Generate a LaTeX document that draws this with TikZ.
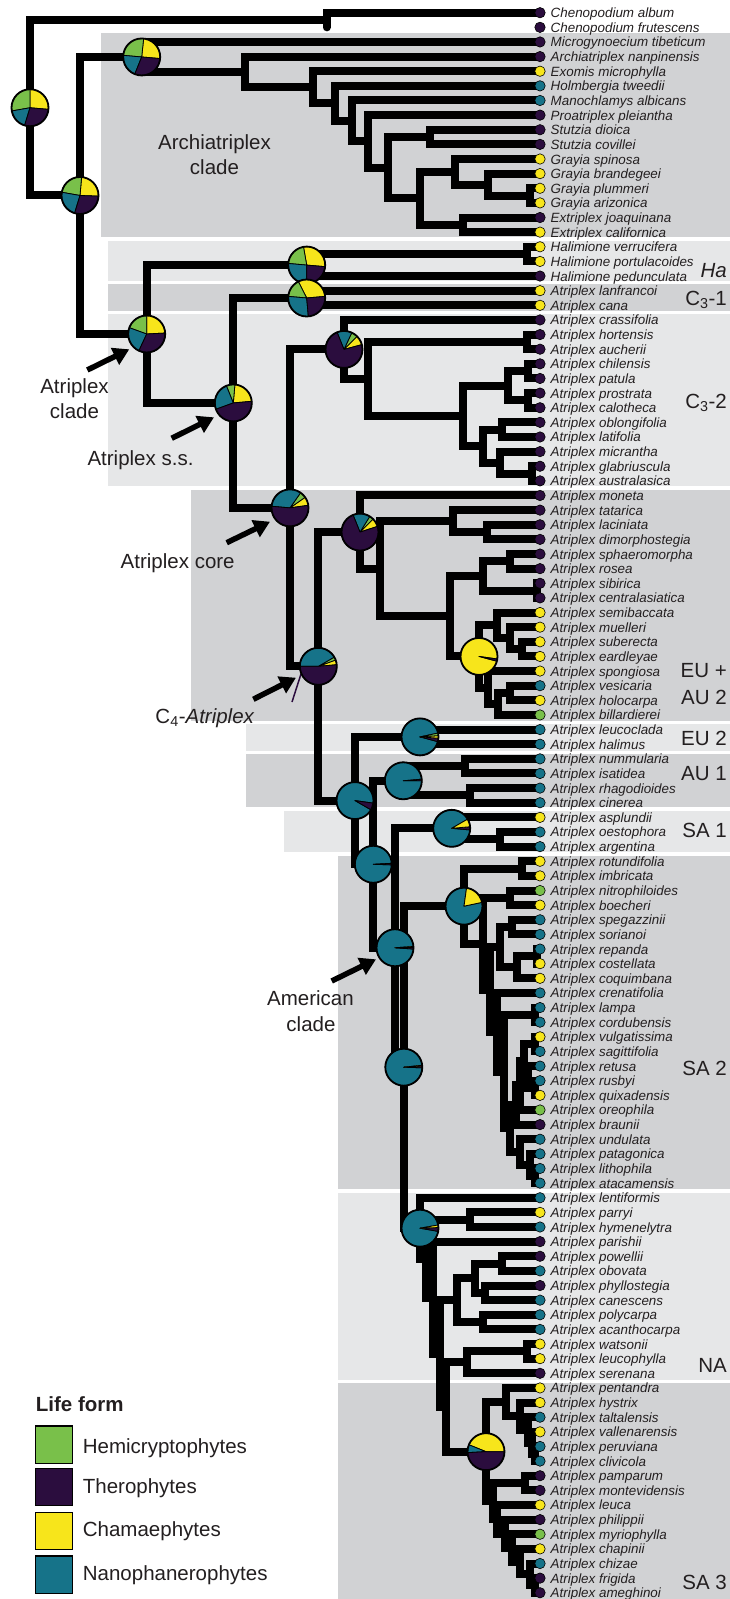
\documentclass[tikz,border=0pt]{standalone}
\usepackage{fontspec}
\setmainfont{Liberation Sans}
\usetikzlibrary{calc,arrows.meta}
\definecolor{cP}{HTML}{2B0D3E}
\definecolor{cT}{HTML}{167389}
\definecolor{cY}{HTML}{F7E51B}
\definecolor{cG}{HTML}{79C04A}
\definecolor{bandD}{HTML}{D1D2D4}
\definecolor{bandL}{HTML}{E6E7E8}
\definecolor{txt}{HTML}{231F20}
\newcommand\clade[4]{%
  \path let \p1=(#3), \p2=(#4), \p3=(#2,0) in coordinate (#1) at (\x3, {0.5*(\y1+\y2)});%
  \draw[br] (#3) -| (#1) |- (#4);}
\newcommand\mypie[2]{%
  \foreach \c/\a/\b in {#2}{%
    \filldraw[fill=\c, draw=black, line width=0.8pt, line join=round] (#1) -- ++(\a:18.5pt) arc[start angle=\a, end angle=\b, radius=18.5pt] -- cycle;}%
  \draw[line width=1.8pt] (#1) circle[radius=18.5pt];}
\begin{document}
\begin{tikzpicture}[x=1pt,y=-1pt,
  br/.style={line width=8pt, line join=miter, line cap=butt},
  tiplab/.style={anchor=base west, inner sep=0pt, font=\fontsize{13.4}{15}\selectfont\itshape, text=txt},
  ann/.style={inner sep=0pt, font=\fontsize{20.5}{24}\selectfont, text=txt},
  arr/.style={line width=5.5pt, -{Triangle[length=16pt,width=18pt]}},
  legbox/.style={draw=black, line width=1.3pt}]
\useasboundingbox (0,0) rectangle (730,1599);
\fill[white] (0,0) rectangle (730,1599);
% bands
\fill[bandD] (100.5,33) rectangle (730,236.5);
\fill[bandL] (107.5,241) rectangle (730,280.5);
\fill[bandD] (107.5,284) rectangle (730,310.5);
\fill[bandL] (107.5,313.5) rectangle (730,486);
\fill[bandD] (190.5,489.5) rectangle (730,721);
\fill[bandL] (246,724) rectangle (730,750.5);
\fill[bandD] (246,754) rectangle (730,807);
\fill[bandL] (284,811) rectangle (730,851.5);
\fill[bandD] (337.5,856) rectangle (730,1189);
\fill[bandL] (337.5,1193) rectangle (730,1380);
\fill[bandD] (337.5,1383) rectangle (730,1599);
% tips
\foreach \i in {1,...,109}{\coordinate (t\i) at (540,{12.7+(\i-1)*14.63});}
% Chenopodium
\path let \p1=(t1), \p2=(t2), \p3=(326.7,0) in coordinate (cheno) at (\x3,{0.5*(\y1+\y2)});
\draw[br, line cap=round] (t1) -| (cheno) -- (cheno |- t2);
% Archiatriplex clade
\clade{gthree}{530}{t13}{t14}
\clade{gtwo}{488.3}{t12}{gthree}
\clade{gray}{455}{t11}{gtwo}
\clade{extr}{463.3}{t15}{t16}
\clade{ge}{420}{gray}{extr}
\clade{stu}{430}{t9}{t10}
\clade{nrest}{388.3}{stu}{ge}
\clade{npr}{368.3}{t8}{nrest}
\clade{nma}{351.7}{t7}{npr}
\clade{nho}{335}{t6}{nma}
\clade{nex}{312.7}{t5}{nho}
\clade{nna}{245}{t4}{nex}
\clade{archi}{141.7}{t3}{nna}
% Halimione, C3-1
\clade{hvp}{527.3}{t17}{t18}
\clade{hali}{306.7}{hvp}{t19}
\clade{cthree}{306.7}{t20}{t21}
% C3-2
\clade{ha}{526.7}{t23}{t24}
\clade{cp}{528}{t25}{t26}
\clade{pcal}{528}{t27}{t28}
\clade{cppc}{508}{cp}{pcal}
\clade{ol}{501.7}{t29}{t30}
\clade{gaa}{531.7}{t32}{t33}
\clade{mga}{500}{t31}{gaa}
\clade{olmga}{483.3}{ol}{mga}
\clade{cc}{463}{cppc}{olmga}
\clade{cb}{368.3}{ha}{cc}
\clade{ctwo}{344}{t22}{cb}
% EU + AU 2
\clade{ld}{486.7}{t36}{t37}
\clade{nB}{453.3}{t35}{ld}
\clade{sr}{510}{t38}{t39}
\clade{sc}{536.7}{t40}{t41}
\clade{nD}{483.3}{sr}{sc}
\clade{se}{522}{t44}{t45}
\clade{mu}{510}{t43}{se}
\clade{nF}{497}{t42}{mu}
\clade{vh}{510}{t47}{t48}
\clade{vhb}{498}{vh}{t49}
\clade{nG}{488}{t46}{vhb}
\clade{nE}{479}{nF}{nG}
\clade{nC}{450}{nD}{nE}
\clade{nA}{380}{nB}{nC}
\clade{euau}{360}{t34}{nA}
% EU 2, AU 1, SA 1
\clade{eutwo}{420}{t50}{t51}
\clade{aua}{465}{t52}{t53}
\clade{aub}{470}{t54}{t55}
\clade{auone}{403.3}{aua}{aub}
\clade{oa}{500}{t57}{t58}
\clade{saone}{451.7}{t56}{oa}
% SA 2
\clade{ri}{521.7}{t59}{t60}
\clade{nbo}{510}{t61}{t62}
\clade{sps}{511.7}{t63}{t64}
\clade{rc}{536.7}{t65}{t66}
\clade{rcc}{516.7}{rc}{t67}
\clade{ya}{500}{sps}{rcc}
\clade{lc}{535}{t69}{t70}
\clade{vs}{535}{t71}{t72}
\clade{rq}{535}{t74}{t75}
\clade{rrq}{528}{t73}{rq}
\clade{yeone}{524}{vs}{rrq}
\clade{yetwo}{520}{yeone}{t76}
\clade{yethree}{516}{yetwo}{t77}
\clade{la}{535}{t80}{t81}
\clade{pla}{530}{t79}{la}
\clade{upla}{520}{t78}{pla}
\clade{yf}{510}{yethree}{upla}
\clade{yg}{504}{lc}{yf}
\clade{yh}{497}{t68}{yg}
\clade{sy}{490}{ya}{yh}
\clade{sx}{483}{nbo}{sy}
\clade{nL}{464}{ri}{sx}
% NA + SA 3
\clade{ph}{470}{t83}{t84}
\clade{po}{501.7}{t86}{t87}
\clade{pcn}{485}{t88}{t89}
\clade{popc}{475}{po}{pcn}
\clade{pa}{483.3}{t90}{t91}
\clade{nacore}{456.7}{popc}{pa}
\clade{wl}{526.7}{t92}{t93}
\clade{wls}{466.7}{wl}{t94}
\clade{pcl}{535}{t99}{t100}
\clade{vpc}{532}{t98}{pcl}
\clade{tvpc}{528}{t97}{vpc}
\clade{ht}{520}{t96}{tvpc}
\clade{pht}{506}{t95}{ht}
\clade{pm}{525}{t101}{t102}
\clade{fa}{535}{t108}{t109}
\clade{cfa}{530}{t107}{fa}
\clade{chc}{520}{t106}{cfa}
\clade{myc}{511.7}{t105}{chc}
\clade{phm}{505}{t104}{myc}
\clade{leph}{496.7}{t103}{phm}
\clade{sabb}{493}{pm}{leph}
\clade{sathree}{486}{pht}{sabb}
\clade{mfive}{446}{wls}{sathree}
\clade{mfour}{440}{nacore}{mfive}
\clade{mthree}{433}{t85}{mfour}
\clade{mtwo}{426}{ph}{mthree}
\clade{nM}{420}{t82}{mtwo}
% backbone
\clade{nK}{403.8}{nL}{nM}
\clade{nJ}{395}{saone}{nK}
\clade{nI}{373.3}{auone}{nJ}
\clade{nH}{355}{eutwo}{nI}
\clade{cfour}{318.3}{euau}{nH}
\clade{core}{290}{ctwo}{cfour}
\clade{ssn}{233.3}{cthree}{core}
\clade{atr}{146.7}{hali}{ssn}
\clade{nEighty}{80}{archi}{atr}
\clade{root}{30}{cheno}{nEighty}
% stray mark near C4 node
\coordinate (sm1) at (301,674); \coordinate (sm2) at (292,702);
\draw[line width=1.5pt, cP] (sm1) -- (sm2);
% pies
\mypie{root}{cY/-5/90, cG/90/190, cT/190/253, cP/253/355}
\mypie{nEighty}{cY/-2/85, cG/85/170, cT/170/253, cP/253/358}
\mypie{archi}{cY/-5/84, cG/84/175, cT/175/248, cP/248/355}
\mypie{hali}{cY/-5/100, cG/100/175, cT/175/270, cP/270/355}
\mypie{cthree}{cY/5/117, cG/117/175, cT/175/275, cP/275/365}
\mypie{atr}{cY/3/90, cG/90/160, cT/160/245, cP/245/363}
\mypie{ssn}{cY/5/85, cG/85/112, cT/112/200, cP/200/365}
\mypie{ctwo}{cY/15/45, cG/45/65, cT/65/112, cP/112/375}
\mypie{core}{cY/8/35, cG/35/55, cT/55/175, cP/175/368}
\mypie{euau}{cY/18/45, cG/45/58, cT/58/112, cP/112/378}
\mypie{nE}{cY/-8/345, cP/345/352}
\mypie{cfour}{cY/5/20, cG/20/30, cT/30/180, cP/180/365}
\mypie{eutwo}{cT/12/345, cP/345/356, cY/356/364, cG/364/372}
\mypie{auone}{cT/5/360, cP/0/5}
\mypie{nH}{cT/-8/330, cP/330/352}
\mypie{nI}{cT/3/358, cP/358/363}
\mypie{saone}{cT/30/355, cP/355/365, cY/5/30}
\mypie{nJ}{cT/4/356, cP/356/361, cY/361/364}
\mypie{nL}{cT/82/372, cY/12/82}
\mypie{nK}{cT/6/358, cP/358/364, cY/364/366}
\mypie{nM}{cT/10/350, cP/350/362, cY/362/370}
\mypie{sathree}{cY/0/158, cT/158/183, cP/183/360}
% tip dots and labels
\foreach \i/\n/\c in {1/Chenopodium album/cP, 2/Chenopodium frutescens/cP, 3/Microgynoecium tibeticum/cP, 4/Archiatriplex nanpinensis/cP, 5/Exomis microphylla/cY, 6/Holmbergia tweedii/cT, 7/Manochlamys albicans/cT, 8/Proatriplex pleiantha/cP, 9/Stutzia dioica/cP, 10/Stutzia covillei/cP, 11/Grayia spinosa/cY, 12/Grayia brandegeei/cY, 13/Grayia plummeri/cY, 14/Grayia arizonica/cY, 15/Extriplex joaquinana/cP, 16/Extriplex californica/cY, 17/Halimione verrucifera/cY, 18/Halimione portulacoides/cY, 19/Halimione pedunculata/cP, 20/Atriplex lanfrancoi/cY, 21/Atriplex cana/cY, 22/Atriplex crassifolia/cP, 23/Atriplex hortensis/cP, 24/Atriplex aucherii/cP, 25/Atriplex chilensis/cP, 26/Atriplex patula/cP, 27/Atriplex prostrata/cP, 28/Atriplex calotheca/cP, 29/Atriplex oblongifolia/cP, 30/Atriplex latifolia/cP, 31/Atriplex micrantha/cP, 32/Atriplex glabriuscula/cP, 33/Atriplex australasica/cP, 34/Atriplex moneta/cP, 35/Atriplex tatarica/cP, 36/Atriplex laciniata/cP, 37/Atriplex dimorphostegia/cP, 38/Atriplex sphaeromorpha/cP, 39/Atriplex rosea/cP, 40/Atriplex sibirica/cP, 41/Atriplex centralasiatica/cP, 42/Atriplex semibaccata/cY, 43/Atriplex muelleri/cY, 44/Atriplex suberecta/cY, 45/Atriplex eardleyae/cY, 46/Atriplex spongiosa/cY, 47/Atriplex vesicaria/cT, 48/Atriplex holocarpa/cY, 49/Atriplex billardierei/cG, 50/Atriplex leucoclada/cT, 51/Atriplex halimus/cT, 52/Atriplex nummularia/cT, 53/Atriplex isatidea/cT, 54/Atriplex rhagodioides/cT, 55/Atriplex cinerea/cT, 56/Atriplex asplundii/cY, 57/Atriplex oestophora/cT, 58/Atriplex argentina/cT, 59/Atriplex rotundifolia/cY, 60/Atriplex imbricata/cY, 61/Atriplex nitrophiloides/cG, 62/Atriplex boecheri/cY, 63/Atriplex spegazzinii/cT, 64/Atriplex sorianoi/cT, 65/Atriplex repanda/cT, 66/Atriplex costellata/cY, 67/Atriplex coquimbana/cY, 68/Atriplex crenatifolia/cT, 69/Atriplex lampa/cT, 70/Atriplex cordubensis/cT, 71/Atriplex vulgatissima/cY, 72/Atriplex sagittifolia/cT, 73/Atriplex retusa/cT, 74/Atriplex rusbyi/cT, 75/Atriplex quixadensis/cY, 76/Atriplex oreophila/cG, 77/Atriplex braunii/cP, 78/Atriplex undulata/cT, 79/Atriplex patagonica/cT, 80/Atriplex lithophila/cT, 81/Atriplex atacamensis/cT, 82/Atriplex lentiformis/cT, 83/Atriplex parryi/cY, 84/Atriplex hymenelytra/cT, 85/Atriplex parishii/cP, 86/Atriplex powellii/cP, 87/Atriplex obovata/cT, 88/Atriplex phyllostegia/cP, 89/Atriplex canescens/cT, 90/Atriplex polycarpa/cT, 91/Atriplex acanthocarpa/cT, 92/Atriplex watsonii/cY, 93/Atriplex leucophylla/cY, 94/Atriplex serenana/cP, 95/Atriplex pentandra/cY, 96/Atriplex hystrix/cY, 97/Atriplex taltalensis/cT, 98/Atriplex vallenarensis/cY, 99/Atriplex peruviana/cT, 100/Atriplex clivicola/cT, 101/Atriplex pamparum/cP, 102/Atriplex montevidensis/cP, 103/Atriplex leuca/cY, 104/Atriplex philippii/cP, 105/Atriplex myriophylla/cG, 106/Atriplex chapinii/cY, 107/Atriplex chizae/cT, 108/Atriplex frigida/cP, 109/Atriplex ameghinoi/cP}{%
  \filldraw[fill=\c, draw=black, line width=0.6pt] (t\i) circle[radius=5.2pt];
  \node[tiplab] (l\i) at ($(t\i)+(10.5,5)$) {\n};
}
% arrows
\coordinate (a1s) at (87.3,370);   \coordinate (a1e) at (129.3,349.3);
\coordinate (a2s) at (171.7,438.3); \coordinate (a2e) at (214,417.3);
\coordinate (a3s) at (226.7,542.7); \coordinate (a3e) at (270,521.7);
\coordinate (a4s) at (253.3,699.3); \coordinate (a4e) at (296,677.7);
\coordinate (a5s) at (331.7,981);  \coordinate (a5e) at (376,959.3);
\draw[arr] (a1s) -- (a1e);
\draw[arr] (a2s) -- (a2e);
\draw[arr] (a3s) -- (a3e);
\draw[arr] (a4s) -- (a4e);
\draw[arr] (a5s) -- (a5e);
% annotations
\node[ann, anchor=base] (lArchiA) at (214.5,149) {Archiatriplex};
\node[ann, anchor=base] (lArchiB) at (214.5,174) {clade};
\node[ann, anchor=base] (lAtrA) at (74.5,393.3) {Atriplex};
\node[ann, anchor=base] (lAtrB) at (74.5,418.7) {clade};
\node[ann, anchor=base] (lSS) at (140.5,465.7) {Atriplex s.s.};
\node[ann, anchor=base] (lCore) at (177.7,568.3) {Atriplex core};
\node[ann, anchor=base] (lCfour) at (205,723.3) {C\textsubscript{4}-\textit{Atriplex}};
\node[ann, anchor=base] (lAmA) at (310.5,1005) {American};
\node[ann, anchor=base] (lAmB) at (311,1031) {clade};
% clade labels right
\node[ann, anchor=base east] (rHa) at (727,277.7) {\textit{Ha}};
\node[ann, anchor=base east] (rCa) at (727,305) {C\textsubscript{3}-1};
\node[ann, anchor=base east] (rCb) at (727,408) {C\textsubscript{3}-2};
\node[ann, anchor=base east] (rEUa) at (727,677) {EU +};
\node[ann, anchor=base east] (rAUb) at (727,704) {AU 2};
\node[ann, anchor=base east] (rEUb) at (727,745) {EU 2};
\node[ann, anchor=base east] (rAUa) at (727,780) {AU 1};
\node[ann, anchor=base east] (rSAa) at (727,837.7) {SA 1};
\node[ann, anchor=base east] (rSAb) at (727,1075) {SA 2};
\node[ann, anchor=base east] (rNA) at (727,1372.7) {NA};
\node[ann, anchor=base east] (rSAc) at (727,1589.3) {SA 3};
% legend
\node[ann, anchor=base west, font=\fontsize{20.5}{24}\selectfont\bfseries] (legT) at (35.7,1411) {Life form};
\filldraw[legbox, fill=cG] (35.7,1426) rectangle (72.7,1463.3);
\filldraw[legbox, fill=cP] (35.7,1468.3) rectangle (72.7,1505.7);
\filldraw[legbox, fill=cY] (35.7,1512.3) rectangle (72.7,1549.3);
\filldraw[legbox, fill=cT] (35.7,1556) rectangle (72.7,1593.3);
\node[ann, anchor=base west] (legA) at (82.7,1453.3) {Hemicryptophytes};
\node[ann, anchor=base west] (legB) at (82.7,1493.3) {Therophytes};
\node[ann, anchor=base west] (legC) at (82.7,1536) {Chamaephytes};
\node[ann, anchor=base west] (legD) at (82.7,1580) {Nanophanerophytes};
\end{tikzpicture}
\end{document}
